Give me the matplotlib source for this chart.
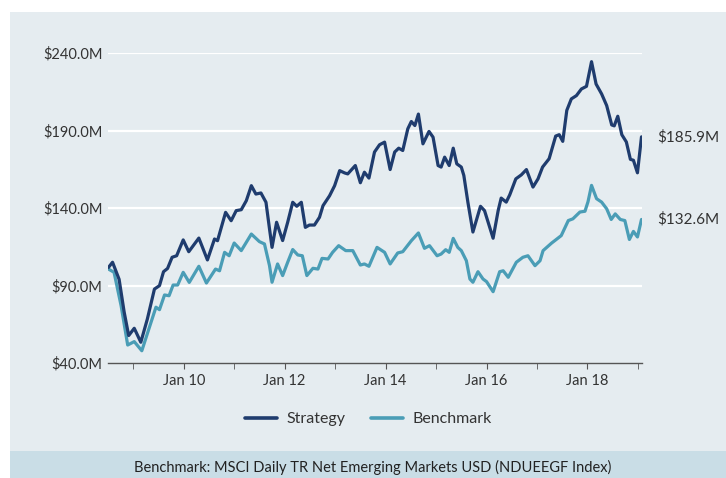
import matplotlib
matplotlib.use("Agg")
from matplotlib import pyplot as plt
from matplotlib.patches import Rectangle
import numpy as np

# decimal years, values in $M
strategy_t = [2008.51, 2008.59, 2008.72, 2008.82, 2008.91, 2009.02, 2009.15, 2009.28, 2009.42, 2009.52,
              2009.60, 2009.68, 2009.77, 2009.86, 2009.99, 2010.10, 2010.30, 2010.47, 2010.61, 2010.67,
              2010.83, 2010.94, 2011.04, 2011.14, 2011.24, 2011.34, 2011.43, 2011.53, 2011.63, 2011.70,
              2011.75, 2011.84, 2011.96, 2012.06, 2012.16, 2012.24, 2012.33, 2012.41, 2012.49, 2012.59,
              2012.69, 2012.76, 2012.89, 2012.99, 2013.09, 2013.19, 2013.25, 2013.40, 2013.50, 2013.58,
              2013.67, 2013.78, 2013.88, 2013.98, 2014.09, 2014.18, 2014.26, 2014.34, 2014.44, 2014.51,
              2014.58, 2014.65, 2014.74, 2014.86, 2014.94, 2015.04, 2015.10, 2015.17, 2015.26, 2015.34,
              2015.41, 2015.50, 2015.55, 2015.63, 2015.73, 2015.88, 2015.96, 2016.13, 2016.23, 2016.29,
              2016.39, 2016.46, 2016.58, 2016.69, 2016.79, 2016.92, 2017.02, 2017.11, 2017.24, 2017.37,
              2017.44, 2017.51, 2017.59, 2017.68, 2017.78, 2017.88, 2017.98, 2018.08, 2018.17, 2018.28,
              2018.38, 2018.48, 2018.53, 2018.60, 2018.68, 2018.77, 2018.85, 2018.91, 2018.99, 2019.07]
strategy_v = [101.7, 105.0, 94.0, 72.9, 57.7, 62.4, 53.4, 68.4, 87.7, 89.9,
              98.9, 101.0, 108.2, 109.2, 119.4, 111.8, 120.6, 106.5, 120.0, 118.9,
              137.2, 131.8, 138.3, 138.9, 144.7, 154.4, 149.0, 149.7, 143.7, 126.5,
              114.6, 130.8, 119.0, 130.8, 143.7, 141.1, 143.7, 127.5, 129.0, 129.0,
              134.0, 141.5, 147.9, 154.4, 164.1, 162.6, 162.0, 167.4, 156.3, 163.1,
              159.3, 176.1, 180.8, 182.5, 164.8, 176.1, 178.6, 177.1, 191.1, 195.8,
              193.2, 200.6, 181.4, 189.4, 185.7, 167.4, 166.4, 172.8, 167.4, 178.6,
              168.5, 166.4, 161.0, 143.8, 124.5, 141.1, 138.3, 120.5, 138.3, 146.4,
              143.8, 148.5, 158.8, 161.4, 164.8, 153.5, 158.8, 166.4, 171.8, 186.4,
              187.3, 183.0, 203.0, 210.4, 212.5, 216.8, 218.5, 234.4, 220.0, 213.6,
              206.1, 193.6, 193.0, 199.2, 187.3, 182.6, 171.4, 170.8, 162.7, 185.9]

benchmark_t = [2008.51, 2008.62, 2008.76, 2008.89, 2009.02, 2009.17, 2009.32, 2009.45, 2009.52, 2009.62,
               2009.71, 2009.79, 2009.88, 2009.99, 2010.11, 2010.30, 2010.45, 2010.63, 2010.71, 2010.81,
               2010.90, 2011.00, 2011.14, 2011.34, 2011.50, 2011.60, 2011.70, 2011.75, 2011.86, 2011.96,
               2012.06, 2012.16, 2012.26, 2012.35, 2012.44, 2012.56, 2012.66, 2012.74, 2012.86, 2012.95,
               2013.07, 2013.21, 2013.35, 2013.50, 2013.58, 2013.67, 2013.83, 2013.98, 2014.09, 2014.24,
               2014.34, 2014.51, 2014.65, 2014.77, 2014.87, 2015.02, 2015.10, 2015.19, 2015.26, 2015.34,
               2015.43, 2015.50, 2015.60, 2015.67, 2015.73, 2015.83, 2015.93, 2016.00, 2016.13, 2016.26,
               2016.33, 2016.43, 2016.59, 2016.72, 2016.82, 2016.96, 2017.06, 2017.12, 2017.29, 2017.35,
               2017.48, 2017.62, 2017.71, 2017.85, 2017.95, 2018.01, 2018.08, 2018.18, 2018.28, 2018.38,
               2018.47, 2018.55, 2018.65, 2018.74, 2018.83, 2018.91, 2018.99, 2019.07]
benchmark_v = [100.6, 98.5, 76.9, 51.6, 53.8, 47.9, 63.0, 76.0, 74.4, 83.9,
               83.4, 90.3, 90.3, 98.5, 92.0, 102.4, 91.6, 100.6, 99.5, 111.4,
               109.2, 117.4, 112.5, 123.2, 118.3, 116.8, 102.8, 92.1, 103.9, 96.4,
               105.0, 113.2, 109.7, 109.2, 96.4, 101.1, 100.6, 107.5, 107.1, 111.4,
               115.7, 112.5, 112.5, 103.2, 103.9, 102.4, 114.6, 111.4, 103.9, 111.0,
               111.8, 118.9, 123.9, 114.0, 115.7, 109.2, 110.3, 113.1, 111.4, 120.4,
               114.6, 112.5, 106.0, 94.2, 92.1, 98.9, 94.2, 92.5, 86.0, 98.9,
               99.5, 95.3, 105.0, 108.2, 109.2, 102.8, 106.0, 112.5, 117.4, 118.9,
               122.2, 131.9, 133.0, 137.4, 137.9, 144.0, 154.6, 146.0, 143.8, 139.5,
               132.6, 136.2, 132.6, 131.9, 119.7, 124.9, 121.3, 132.6]

y_ticks = [40, 90, 140, 190, 240]
y_labels = ["$40.0M", "$90.0M", "$140.0M", "$190.0M", "$240.0M"]
x_major = [2010, 2012, 2014, 2016, 2018]
x_major_labels = ["Jan 10", "Jan 12", "Jan 14", "Jan 16", "Jan 18"]
x_minor = [2009, 2011, 2013, 2015, 2017, 2019]

NAVY = "#1f3c6e"
TEAL = "#4a9db6"
PANEL = "#e5ecf0"
FOOTER = "#c9dde6"
TEXT = "#333333"

plt.rcParams['font.family'] = ['Lato', 'DejaVu Sans']

W, H = 726, 478
fig = plt.figure(figsize=(W / 100, H / 100), dpi=100)
fig.patch.set_facecolor("white")

# background panel and footer band
fig.patches.append(Rectangle((10 / W, 1 - 451 / H), 1, (451 - 12) / H,
                             transform=fig.transFigure, facecolor=PANEL, edgecolor="none", zorder=-5))
fig.patches.append(Rectangle((10 / W, 0), 1, 27 / H,
                             transform=fig.transFigure, facecolor=FOOTER, edgecolor="none", zorder=-5))

ax = fig.add_axes([108 / W, 1 - 363 / H, (642 - 108) / W, (363 - 53) / H])
ax.set_facecolor("none")
ax.set_zorder(5)

ax.plot(strategy_t, strategy_v, color=NAVY, lw=2.3, solid_joinstyle="round", solid_capstyle="round",
        label="Strategy", zorder=3)
ax.plot(benchmark_t, benchmark_v, color=TEAL, lw=2.3, solid_joinstyle="round", solid_capstyle="round",
        label="Benchmark", zorder=2)

ax.set_xlim(2008.5, 2019.08)
ax.set_ylim(40, 240)
ax.set_yticks(y_ticks)
ax.set_yticklabels(y_labels)
ax.set_xticks(x_major)
ax.set_xticklabels(x_major_labels)
ax.set_xticks(x_minor, minor=True)

for v in y_ticks[1:]:
    ax.axhline(v, color="white", lw=1.6, zorder=1)

for s in ["top", "right", "left"]:
    ax.spines[s].set_visible(False)
ax.spines["bottom"].set_color("#555555")
ax.spines["bottom"].set_linewidth(1.0)
ax.tick_params(axis="y", length=0, pad=4, labelsize=10.5, labelcolor=TEXT)
ax.tick_params(axis="x", which="both", direction="out", length=4, color="#555555",
               labelsize=10.5, labelcolor=TEXT, pad=4)

# end value labels
for val in [strategy_v[-1], benchmark_v[-1]]:
    ax.annotate("$%.1fM" % val, xy=(1, val), xycoords=("axes fraction", "data"),
                xytext=(11, 0), textcoords="offset points", va="center", ha="left",
                fontsize=11, color=TEXT, annotation_clip=False)

leg = fig.legend(loc="center", bbox_to_anchor=(368 / W, 1 - 419 / H), ncol=2, frameon=False,
                 fontsize=11.5, handlelength=2.0, columnspacing=1.6, handletextpad=0.6)
for line in leg.get_lines():
    line.set_linewidth(2.6)
for t in leg.get_texts():
    t.set_color(TEXT)

fig.text(373 / W, 1 - 467 / H, "Benchmark: MSCI Daily TR Net Emerging Markets USD (NDUEEGF Index)",
         ha="center", va="center", fontsize=10.5, color="#222222")

fig.savefig("out.png", dpi=100)
